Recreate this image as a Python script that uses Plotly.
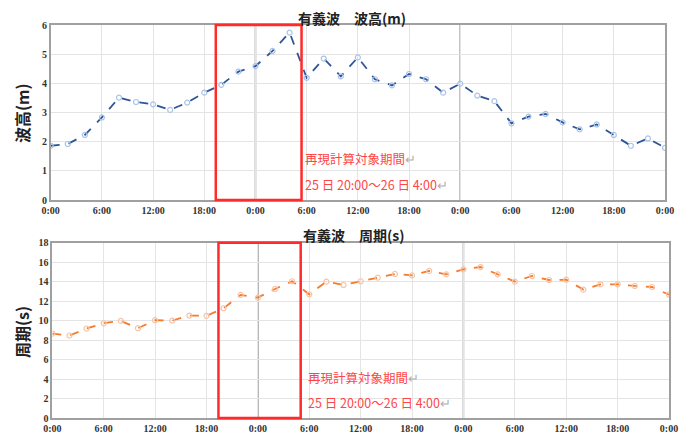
import plotly.graph_objects as go

hours = [0, 2, 4, 6, 8, 10, 12, 14, 16, 18, 20, 22, 24, 26, 28, 30, 32, 34, 36,
         38, 40, 42, 44, 46, 48, 50, 52, 54, 56, 58, 60, 62, 64, 66, 68, 70, 72]
wave_height = [1.86, 1.92, 2.23, 2.83, 3.51, 3.36, 3.28, 3.09, 3.34, 3.68, 3.95, 4.40,
               4.59, 5.11, 5.74, 4.19, 4.85, 4.24, 4.89, 4.14, 3.93, 4.32, 4.14, 3.68,
               3.99, 3.58, 3.39, 2.63, 2.86, 2.95, 2.66, 2.42, 2.59, 2.23, 1.86, 2.11, 1.79]
wave_period = [8.67, 8.47, 9.19, 9.73, 9.97, 9.22, 10.04, 10.0, 10.52, 10.49, 11.27, 12.64,
               12.36, 13.25, 14.04, 12.70, 14.0, 13.66, 14.04, 14.41, 14.79, 14.65, 15.1, 14.75,
               15.26, 15.5, 14.75, 14.0, 14.58, 14.17, 14.2, 13.18, 13.73, 13.73, 13.56, 13.45, 12.66]
tick_vals = [0, 6, 12, 18, 24, 30, 36, 42, 48, 54, 60, 66, 72]
tick_text = ["0:00", "6:00", "12:00", "18:00", "0:00", "6:00", "12:00", "18:00",
             "0:00", "6:00", "12:00", "18:00", "0:00"]
day_lines = [24, 48]
box_top = [19.35, 29.4]
box_bottom = [19.4, 29.0]

OFF = 8  # browser default body margin
W, H = 691 - OFF, 434 - OFF
cjk = "Noto Sans CJK JP"
tickfont = dict(family="Liberation Serif", size=10, color="#333333", weight="bold")

fig = go.Figure()
fig.add_trace(go.Scatter(
    x=hours, y=wave_height, mode="lines+markers", xaxis="x", yaxis="y",
    line=dict(color="#2f5597", width=1.8, dash="dash"),
    marker=dict(symbol="circle-open", size=5, color="#a9c4e8", line=dict(width=1.2)),
    showlegend=False))
fig.add_trace(go.Scatter(
    x=hours, y=wave_period, mode="lines+markers", xaxis="x2", yaxis="y2",
    line=dict(color="#f47b2c", width=1.8, dash="dash"),
    marker=dict(symbol="circle-open", size=5, color="#f8c4a4", line=dict(width=1.2)),
    showlegend=False))

def px_x(p):
    return (p - OFF) / W

def px_y(p):
    return 1 - (p - OFF) / H

axis_common = dict(showgrid=True, gridcolor="#e4e4e4", gridwidth=1, zeroline=False,
                   showline=True, linecolor="#a0a0a0", linewidth=1.5, mirror=True,
                   tickfont=tickfont, ticks="", automargin=False)

fig.update_layout(
    width=W, height=H, margin=dict(l=0, r=0, t=0, b=0, autoexpand=False),
    paper_bgcolor="white", plot_bgcolor="white",
    xaxis=dict(domain=[px_x(50.7), px_x(665)], range=[0, 72], tickvals=tick_vals,
               ticktext=tick_text, anchor="y", **axis_common),
    yaxis=dict(domain=[px_y(200), px_y(25)], range=[0, 6], dtick=1, anchor="x",
               **axis_common),
    xaxis2=dict(domain=[px_x(52.3), px_x(669)], range=[0, 72], tickvals=tick_vals,
                ticktext=tick_text, anchor="y2", **axis_common),
    yaxis2=dict(domain=[px_y(418), px_y(242.7)], range=[0, 18], dtick=2, anchor="x2",
                **axis_common),
)

shapes = []
for d in day_lines:
    for xr, yr in (("x", "y domain"), ("x2", "y2 domain")):
        shapes.append(dict(type="line", xref=xr, yref=yr, x0=d, x1=d, y0=0, y1=1,
                           line=dict(color="#8c8c8c", width=1.5), layer="below"))
shapes.append(dict(type="rect", xref="x", yref="y domain", x0=box_top[0], x1=box_top[1],
                   y0=0, y1=1, line=dict(color="#ff2a2a", width=2.5)))
shapes.append(dict(type="rect", xref="x2", yref="y2 domain", x0=box_bottom[0], x1=box_bottom[1],
                   y0=0, y1=1, line=dict(color="#ff2a2a", width=2.5)))
fig.update_layout(shapes=shapes)

red = "#ff4646"
ret = "<span style='color:#b0b0b0'>↵</span>"
out = []
for text, x, y in (("有義波　波高(m)", 352, 18), ("有義波　周期(s)", 354, 235)):
    out.append(dict(text="<b>" + text + "</b>", x=px_x(x), y=px_y(y), xref="paper", yref="paper",
                    showarrow=False, font=dict(family=cjk, size=14, color="#222"),
                    xanchor="center", yanchor="middle"))
for text, y in (("波高(m)", 113), ("周期(s)", 332)):
    out.append(dict(text="<b>" + text + "</b>", x=px_x(22), y=px_y(y), xref="paper", yref="paper",
                    showarrow=False, textangle=-90, xanchor="center", yanchor="middle",
                    font=dict(family=cjk, size=16, color="#222")))
for (x0, y1, y2) in ((303, 158, 184), (306, 377, 402)):
    out.append(dict(text="再現計算対象期間" + ret, x=px_x(x0), y=px_y(y1), xref="paper", yref="paper",
                    showarrow=False, xanchor="left", yanchor="middle",
                    font=dict(family=cjk, size=12.5, color=red)))
    out.append(dict(text="25 日 20:00～26 日 4:00" + ret, x=px_x(x0), y=px_y(y2), xref="paper", yref="paper",
                    showarrow=False, xanchor="left", yanchor="middle",
                    font=dict(family=cjk, size=12.5, color=red)))
fig.update_layout(annotations=out)

fig.write_html("out.html")
